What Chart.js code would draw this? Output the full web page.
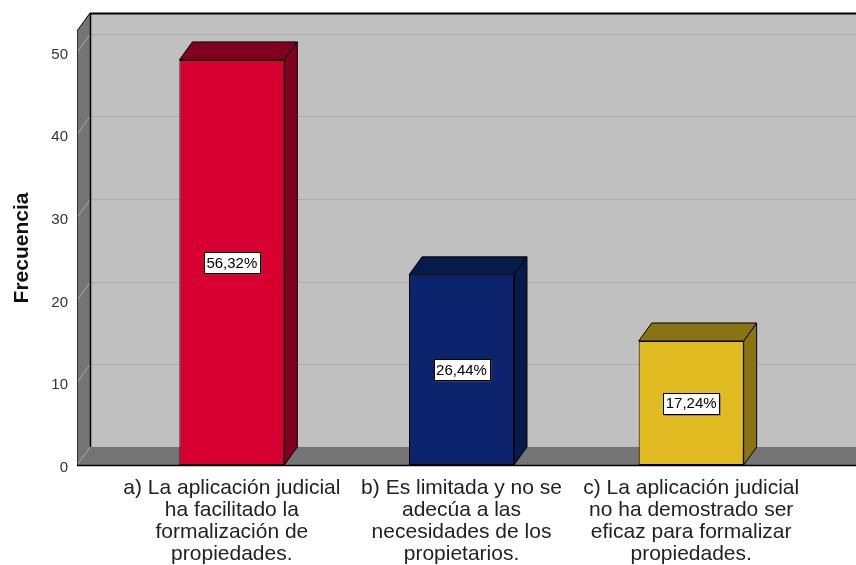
<!DOCTYPE html>
<html><head><meta charset="utf-8">
<script src="https://cdn.jsdelivr.net/npm/chart.js@4.4.1/dist/chart.umd.min.js"></script>
<style>html,body{margin:0;padding:0;background:#fff}canvas{display:block}</style>
</head><body>
<canvas id="c" width="856" height="565"></canvas>
<script>
// ---- data ----
const categories = [
  ['a) La aplicación judicial', 'ha facilitado la', 'formalización de', 'propiedades.'],
  ['b) Es limitada y no se', 'adecúa a las', 'necesidades de los', 'propietarios.'],
  ['c) La aplicación judicial', 'no ha demostrado ser', 'eficaz para formalizar', 'propiedades.']
];
const frequencies = [49, 23, 15];
const percentLabels = ['56,32%', '26,44%', '17,24%'];
const yTickStep = 10;
const yAxisTitle = 'Frecuencia';

// ---- styling ----
const frontColors = ['#d70030', '#0b246b', '#e0bc22'];
const sideColors = ['#82001f', '#061a4c', '#8a7313'];
const DX = 13, DY = -18, WALL_GAP = 40;
const FONT = '"Liberation Sans", Arial, sans-serif';

function poly(ctx, pts, fill, stroke) {
  ctx.beginPath();
  ctx.moveTo(pts[0][0], pts[0][1]);
  for (let i = 1; i < pts.length; i++) ctx.lineTo(pts[i][0], pts[i][1]);
  ctx.closePath();
  if (fill) { ctx.fillStyle = fill; ctx.fill(); }
  if (stroke) { ctx.strokeStyle = stroke; ctx.lineWidth = 1; ctx.stroke(); }
}
function line(ctx, x1, y1, x2, y2, color, w) {
  ctx.beginPath(); ctx.moveTo(x1, y1); ctx.lineTo(x2, y2);
  ctx.strokeStyle = color; ctx.lineWidth = w || 1; ctx.stroke();
}

const depthPlugin = {
  id: 'depth3d',
  beforeDatasetsDraw(chart) {
    const { ctx, chartArea: a, scales: { y } } = chart;
    const L = a.left - WALL_GAP, R = chart.width;
    const y0 = y.getPixelForValue(0), yT = a.top;
    ctx.save();
    // back wall
    ctx.fillStyle = '#c0c0c0';
    ctx.fillRect(L + DX, yT + DY, R - (L + DX), y0 - yT);
    // left wall
    poly(ctx, [[L, yT], [L + DX, yT + DY], [L + DX, y0 + DY], [L, y0]], '#747474');
    // gridlines
    y.ticks.forEach(t => {
      if (t.value === 0) return;
      const py = Math.round(y.getPixelForValue(t.value) + DY) + 0.5;
      line(ctx, L + DX, py, R, py, '#acacac');
      line(ctx, L, py - DY, L + DX, py, '#a8a8a8');
    });
    // floor
    poly(ctx, [[L, y0], [L + DX, y0 + DY], [R, y0 + DY], [R, y0]], '#747474');
    line(ctx, L, y0, L + DX, y0 + DY, '#a0a0a0');
    // edges
    line(ctx, L + DX, yT + DY + 0.5, R, yT + DY + 0.5, '#000', 2);
    line(ctx, L + DX + 0.5, yT + DY, L + DX + 0.5, y0 + DY, '#000', 1.5);
    line(ctx, L, yT, L + DX, yT + DY, '#000', 1);
    line(ctx, L + 0.5, yT, L + 0.5, y0, '#333', 1);
    line(ctx, L, y0 + 0.5, R, y0 + 0.5, '#000', 1.5);
    ctx.restore();
  },
  afterDatasetsDraw(chart) {
    const { ctx } = chart;
    const meta = chart.getDatasetMeta(0);
    ctx.save();
    meta.data.forEach((bar, i) => {
      const p = bar.getProps(['x', 'y', 'base', 'width'], true);
      const l = p.x - p.width / 2, r = p.x + p.width / 2;
      const top = p.y, bot = p.base;
      poly(ctx, [[r, top], [r + DX, top + DY], [r + DX, bot + DY], [r, bot]], sideColors[i], '#000');
      poly(ctx, [[l, top], [l + DX, top + DY], [r + DX, top + DY], [r, top]], sideColors[i], '#000');
      // label
      ctx.font = '15px ' + FONT;
      const txt = percentLabels[i];
      const tw = ctx.measureText(txt).width;
      const bw = Math.round(tw + 5), bh = 21;
      const cx = p.x, cy = (top + bot) / 2;
      const bx = Math.round(cx - bw / 2) + 0.5, by = Math.round(cy - bh / 2) + 0.5;
      ctx.fillStyle = '#555';
      ctx.fillRect(bx + 1, by + 1, bw, bh);
      ctx.fillStyle = '#fff';
      ctx.fillRect(bx, by, bw, bh);
      ctx.strokeStyle = '#000'; ctx.lineWidth = 1;
      ctx.strokeRect(bx, by, bw, bh);
      ctx.fillStyle = '#000';
      ctx.textAlign = 'center'; ctx.textBaseline = 'middle';
      ctx.fillText(txt, cx, cy + 1);
    });
    ctx.restore();
  }
};

new Chart(document.getElementById('c'), {
  type: 'bar',
  data: {
    labels: categories,
    datasets: [{
      data: frequencies,
      backgroundColor: frontColors,
      borderColor: '#000',
      borderWidth: 1,
      borderSkipped: false,
      categoryPercentage: 1,
      barPercentage: 0.457
    }]
  },
  options: {
    responsive: false,
    animation: false,
    devicePixelRatio: 1,
    layout: { padding: { top: 31, right: 50, left: 0, bottom: 0 } },
    plugins: { legend: { display: false }, tooltip: { enabled: false } },
    scales: {
      x: {
        grid: { display: false, drawTicks: false },
        border: { display: false },
        ticks: { color: '#222', font: { family: FONT, size: 21, lineHeight: 1.05 }, padding: 12, maxRotation: 0, autoSkip: false },
        afterFit(s) { s.height = 100; s.paddingLeft = 0; s.paddingRight = 0; }
      },
      y: {
        min: 0, max: 52.5,
        grid: { display: false, drawTicks: false },
        border: { display: false },
        ticks: { stepSize: yTickStep, includeBounds: false, color: '#333', font: { family: FONT, size: 15 }, padding: 49, labelOffset: 3 },
        title: { display: true, text: yAxisTitle, color: '#111', font: { family: FONT, size: 21, weight: 'bold' }, padding: { top: 10, bottom: 0 } },
        afterFit(s) { s.width = 117; s.paddingTop = 0; s.paddingBottom = 0; }
      }
    }
  },
  plugins: [depthPlugin]
});
</script>
</body></html>
